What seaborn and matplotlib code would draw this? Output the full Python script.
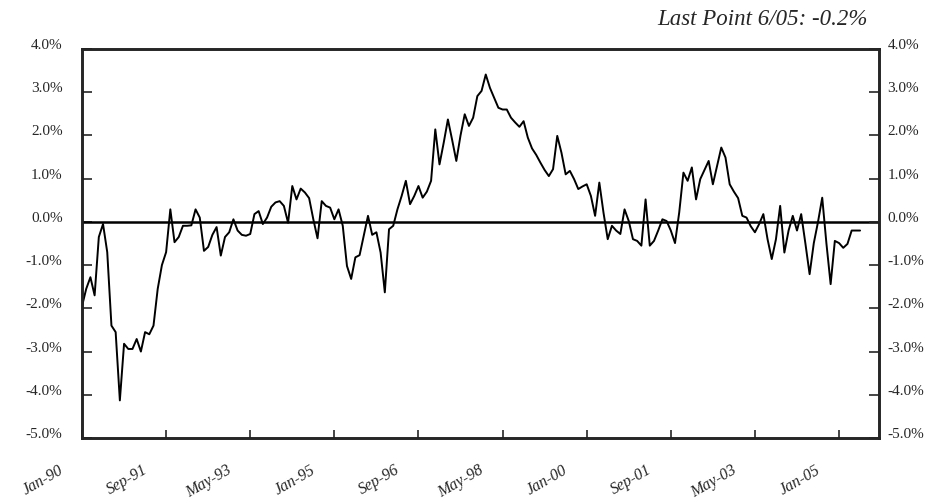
# %% packages
import numpy as np
import pandas as pd
import seaborn as sns
import matplotlib.pyplot as plt
from matplotlib.transforms import ScaledTranslation

# %% data: monthly values Jan-90 .. Jun-05 (%)
values = [
    -1.95, -1.55, -1.28, -1.70, -0.35, -0.05, -0.70, -2.40, -2.55, -4.13,
    -2.82, -2.94, -2.94, -2.71, -3.00, -2.55, -2.60, -2.40, -1.55, -1.00,
    -0.70, 0.29, -0.47, -0.35, -0.09, -0.09, -0.08, 0.29, 0.10, -0.67,
    -0.58, -0.30, -0.12, -0.78, -0.35, -0.24, 0.06, -0.20, -0.30, -0.32,
    -0.28, 0.18, 0.25, -0.05, 0.10, 0.35, 0.45, 0.48, 0.37, -0.02,
    0.83, 0.52, 0.77, 0.68, 0.55, 0.06, -0.38, 0.48, 0.37, 0.33,
    0.06, 0.29, -0.09, -1.02, -1.32, -0.82, -0.77, -0.32, 0.14, -0.30,
    -0.24, -0.71, -1.63, -0.17, -0.09, 0.29, 0.60, 0.95, 0.41, 0.60,
    0.83, 0.56, 0.70, 0.95, 2.14, 1.33, 1.83, 2.37, 1.90, 1.41,
    2.00, 2.49, 2.22, 2.41, 2.91, 3.03, 3.41, 3.10, 2.87, 2.64,
    2.60, 2.60, 2.41, 2.30, 2.20, 2.33, 1.95, 1.70, 1.55, 1.37,
    1.20, 1.06, 1.22, 1.99, 1.60, 1.10, 1.18, 0.99, 0.76, 0.82,
    0.87, 0.60, 0.14, 0.91, 0.21, -0.40, -0.09, -0.20, -0.28, 0.29,
    0.02, -0.40, -0.44, -0.55, 0.52, -0.55, -0.44, -0.20, 0.06, 0.02,
    -0.20, -0.49, 0.22, 1.14, 0.95, 1.26, 0.52, 0.99, 1.20, 1.41,
    0.87, 1.30, 1.72, 1.49, 0.87, 0.70, 0.55, 0.14, 0.10, -0.10,
    -0.24, -0.05, 0.18, -0.40, -0.86, -0.40, 0.37, -0.71, -0.20, 0.14,
    -0.20, 0.18, -0.50, -1.21, -0.49, 0.00, 0.56, -0.50, -1.44, -0.44,
    -0.49, -0.60, -0.51, -0.20, -0.20, -0.20,
]
tick_labels = ['Jan-90', 'Sep-91', 'May-93', 'Jan-95', 'Sep-96',
               'May-98', 'Jan-00', 'Sep-01', 'May-03', 'Jan-05']
y_ticks = [4, 3, 2, 1, 0, -1, -2, -3, -4, -5]
title = 'Last Point 6/05: -0.2%'

df = pd.DataFrame({'month': np.arange(len(values)), 'value': values})

# %% plot
sns.set_style('white')
plt.rcParams['font.family'] = ['Liberation Serif', 'DejaVu Serif']

fig = plt.figure(figsize=(9.41, 5.0), dpi=100)
ax = fig.add_axes([82 / 941, 1 - 438 / 500, (879 - 82) / 941, (438 - 49) / 500])

sns.lineplot(data=df, x='month', y='value', ax=ax, color='black', lw=1.4)
ax.axhline(0, color='black', lw=1.8, zorder=3)

ax.set_xlim(0, 189.5)
ax.set_ylim(-5, 4)
ax.set_xlabel('')
ax.set_ylabel('')

for s in ax.spines.values():
    s.set_linewidth(1.8)
    s.set_color('black')

# x ticks
ax.set_xticks(np.arange(0, 200, 20))
ax.set_xticklabels(tick_labels, rotation=30, ha='right', va='center',
                   rotation_mode='anchor', fontsize=11.5, style='italic')
ax.tick_params(axis='x', direction='in', length=6, width=1.2, pad=0, bottom=True)
for lbl in ax.get_xticklabels():
    lbl.set_transform(lbl.get_transform() + ScaledTranslation(-0.20, -0.31, fig.dpi_scale_trans))

# y ticks left
ax.set_yticks(y_ticks)
ax.set_yticklabels([f'{v:.1f}%' for v in y_ticks], fontsize=11)
ax.tick_params(axis='y', direction='in', length=7, width=1.2, pad=14, left=True)
for lbl in ax.get_yticklabels():
    lbl.set_transform(lbl.get_transform() + ScaledTranslation(0, 0.05, fig.dpi_scale_trans))

# y ticks right
ax2 = ax.twinx()
ax2.set_ylim(-5, 4)
ax2.set_yticks(y_ticks)
ax2.set_yticklabels([f'{v:.1f}%' for v in y_ticks], fontsize=11)
ax2.tick_params(axis='y', direction='in', length=7, width=1.2, pad=6, right=True)
for lbl in ax2.get_yticklabels():
    lbl.set_transform(lbl.get_transform() + ScaledTranslation(0, 0.05, fig.dpi_scale_trans))
for s in ax2.spines.values():
    s.set_linewidth(1.8)

fig.text(868 / 941, 1 - 25 / 500, title, ha='right', va='baseline',
         fontsize=16.5, style='italic')

fig.savefig('out.png', dpi=100)
